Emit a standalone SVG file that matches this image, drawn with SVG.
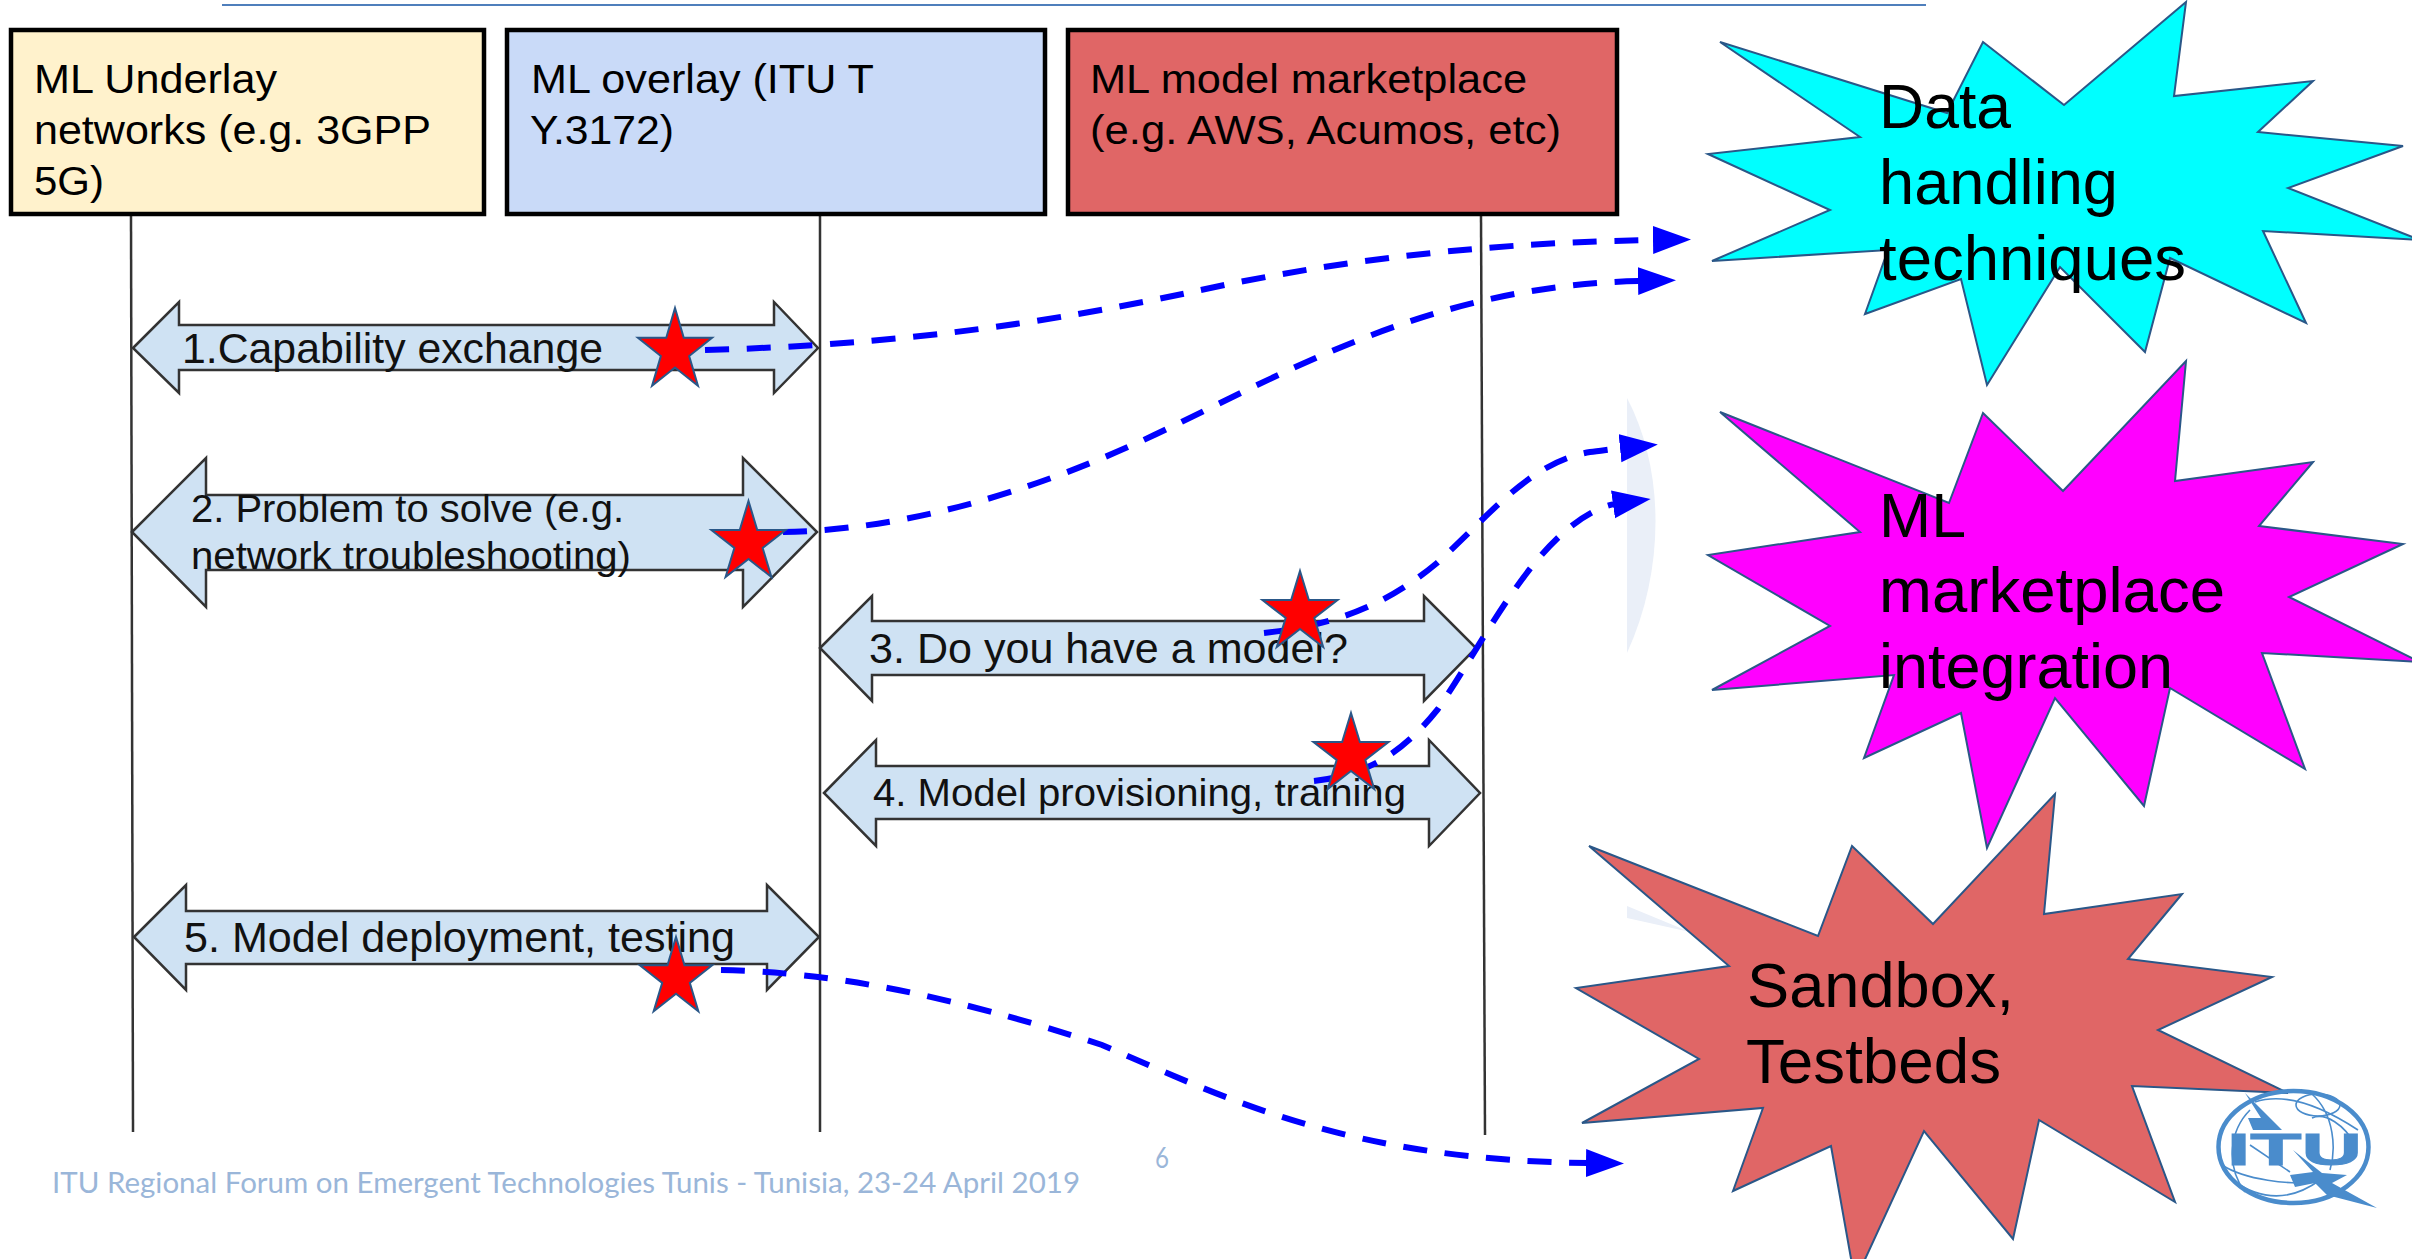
<svg xmlns="http://www.w3.org/2000/svg" width="2412" height="1259" viewBox="0 0 2412 1259">
<style>
.hdr{stroke:#000;stroke-width:4.5}
.t{font-family:"Liberation Sans",Arial,sans-serif;fill:#000}
.h{font-size:40px}
.a{font-size:39px;fill:#111}
.big{font-size:63px}
.life{stroke:#333;stroke-width:2.5;fill:none}
.arr{fill:#cfe2f3;stroke:#333;stroke-width:2.5}
.burst{stroke:#2a5788;stroke-width:2}
.dash{fill:none;stroke:#00f;stroke-width:6;stroke-dasharray:24 17.7;marker-end:url(#head)}
.foot{font-family:Lato,"Open Sans",sans-serif;fill:#9ab6d9}
.logo{fill:none;stroke:#4a8ccc}
</style>
<defs>
<marker id="head" markerUnits="userSpaceOnUse" markerWidth="42" markerHeight="30" refX="2" refY="14.5" orient="auto"><path d="M0,0.5 L38,14.5 L0,28.5Z" fill="#00f"/></marker>
<polygon id="star" points="0,-1 .2245,-.309 .951,-.309 .363,.118 .588,.809 0,.382 -.588,.809 -.363,.118 -.951,-.309 -.2245,-.309" fill="#f00" stroke="#2a5788" stroke-width="2" vector-effect="non-scaling-stroke"/>
</defs>
<rect width="2412" height="1259" fill="#fff"/>
<line x1="222" y1="5" x2="1926" y2="5" stroke="#4f7fbc" stroke-width="2"/>
<path d="M1627,398 C1665,470 1665,570 1627,653Z" fill="#eaeff8"/>
<path d="M1627,906 L1690,932 L1627,918Z" fill="#eaeff8"/>
<g id="lifelines">
<line class="life" x1="131" y1="215" x2="133" y2="1132"/>
<line class="life" x1="820" y1="215" x2="820" y2="1132"/>
<line class="life" x1="1481" y1="215" x2="1485" y2="1135"/>
</g>
<g id="node-underlay"><rect class="hdr" x="11" y="30" width="473" height="184" fill="#fff2cc"/>
<text class="t h" x="34" y="93" textLength="243" lengthAdjust="spacingAndGlyphs">ML Underlay</text>
<text class="t h" x="34" y="144" textLength="397" lengthAdjust="spacingAndGlyphs">networks (e.g. 3GPP</text>
<text class="t h" x="34" y="195" textLength="70" lengthAdjust="spacingAndGlyphs">5G)</text></g>
<g id="node-overlay"><rect class="hdr" x="507" y="30" width="538" height="184" fill="#c9daf8"/>
<text class="t h" x="531" y="93" textLength="343" lengthAdjust="spacingAndGlyphs">ML overlay (ITU T</text>
<text class="t h" x="530" y="144" textLength="144" lengthAdjust="spacingAndGlyphs">Y.3172)</text></g>
<g id="node-marketplace"><rect class="hdr" x="1068" y="30" width="549" height="184" fill="#e06666"/>
<text class="t h" x="1090" y="93" textLength="437" lengthAdjust="spacingAndGlyphs">ML model marketplace</text>
<text class="t h" x="1090" y="144" textLength="471" lengthAdjust="spacingAndGlyphs">(e.g. AWS, Acumos, etc)</text></g>
<g id="msg-1"><polygon class="arr" points="133,348 179,302 179,325 774,325 774,302 818,348 774,393 774,370 179,370 179,393"/>
<text class="t a" x="182" y="363" style="font-size:43px" textLength="421" lengthAdjust="spacingAndGlyphs">1.Capability exchange</text></g>
<g id="msg-2"><polygon class="arr" points="132,532 206,458 206,495 743,495 743,458 817,532 743,607 743,570 206,570 206,607"/>
<text class="t a" x="191" y="522" style="font-size:38px" textLength="433" lengthAdjust="spacingAndGlyphs">2. Problem to solve (e.g.</text>
<text class="t a" x="191" y="569" style="font-size:38px" textLength="440" lengthAdjust="spacingAndGlyphs">network troubleshooting)</text></g>
<g id="msg-3"><polygon class="arr" points="820,648 872,596 872,621 1424,621 1424,596 1476,648 1424,701 1424,675 872,675 872,701"/>
<text class="t a" x="869" y="663" style="font-size:42px" textLength="479" lengthAdjust="spacingAndGlyphs">3. Do you have a model?</text></g>
<g id="msg-4"><polygon class="arr" points="824,793 876,740 876,766 1429,766 1429,740 1480,793 1429,846 1429,819 876,819 876,846"/>
<text class="t a" x="873" y="806" textLength="533" lengthAdjust="spacingAndGlyphs">4. Model provisioning, training</text></g>
<g id="msg-5"><polygon class="arr" points="134,937 186,885 186,911 767,911 767,885 819,937 767,990 767,964 186,964 186,990"/>
<text class="t a" x="184" y="952" style="font-size:42px" textLength="551" lengthAdjust="spacingAndGlyphs">5. Model deployment, testing</text></g>
<g id="connectors">
<path class="dash" d="M705,350 C900,345 1050,322 1187,293 C1300,268 1450,243 1655,240"/>
<path class="dash" d="M783,532 C900,530 1030,495 1167,429 C1300,365 1440,285 1640,281"/>
<path class="dash" d="M1264,633 C1340,625 1390,602 1437,563 C1490,515 1530,462 1590,452 C1600,451 1612,449 1622,448"/>
<path class="dash" d="M1314,781 C1370,775 1405,750 1438,709 C1485,640 1530,545 1593,512 C1600,508 1608,505 1615,504"/>
<path class="dash" d="M721,970 C830,972 950,995 1102,1045 C1230,1100 1350,1160 1588,1163"/>
</g>
<g id="star-1"><use href="#star" transform="translate(675,351) scale(39,43)"/></g>
<g id="star-2"><use href="#star" transform="translate(748.5,543) scale(39,42)"/></g>
<g id="star-3"><use href="#star" transform="translate(1300,613) scale(39.5,42)"/></g>
<g id="star-4"><use href="#star" transform="translate(1351,755) scale(39.5,42)"/></g>
<g id="star-5"><use href="#star" transform="translate(676,978) scale(38,41)"/></g>
<g id="node-data"><polygon class="burst" fill="#0ff" points="1720,42 1947,113 1983,42 2064,105 2186,2 2174,96 2313,81 2258,132 2403,146 2288,188 2420,240 2263,231 2306,323 2170,258 2145,352 2060,267 1987,385 1961,279 1865,314 1888,250 1712,261 1830,210 1708,154 1860,137"/>
<text class="t big" x="1879" y="128" textLength="132" lengthAdjust="spacingAndGlyphs">Data</text>
<text class="t big" x="1879" y="204" textLength="239" lengthAdjust="spacingAndGlyphs">handling</text>
<text class="t big" x="1879" y="280" textLength="307" lengthAdjust="spacingAndGlyphs">techniques</text></g>
<g id="node-ml"><polygon class="burst" fill="#f0f" points="1720,412 1949,503 1983,413 2063,491 2186,361 2175,481 2313,462 2259,526 2403,544 2289,597 2420,662 2262,653 2305,769 2170,688 2144,806 2055,698 1987,848 1961,713 1864,758 1894,675 1712,690 1830,626 1708,555 1860,532"/>
<text class="t big" x="1879" y="537" textLength="87" lengthAdjust="spacingAndGlyphs">ML</text>
<text class="t big" x="1879" y="612" textLength="346" lengthAdjust="spacingAndGlyphs">marketplace</text>
<text class="t big" x="1879" y="688" textLength="294" lengthAdjust="spacingAndGlyphs">integration</text></g>
<g id="node-sandbox"><polygon class="burst" fill="#e06666" points="1589,846 1818,936 1852,846 1933,924 2055,794 2044,914 2182,894 2128,959 2272,977 2158,1030 2288,1093 2132,1086 2175,1202 2039,1120 2013,1239 1924,1131 1855,1281 1831,1146 1733,1191 1763,1108 1582,1123 1699,1059 1576,988 1729,966"/>
<text class="t big" x="1747" y="1007" textLength="267" lengthAdjust="spacingAndGlyphs">Sandbox,</text>
<text class="t big" x="1746" y="1083" textLength="255" lengthAdjust="spacingAndGlyphs">Testbeds</text></g>
<g id="logo">
<ellipse class="logo" cx="2293.5" cy="1147" rx="75" ry="56" stroke-width="4.5"/>
<g class="logo" stroke-width="1.6">
<ellipse cx="2318" cy="1105" rx="22" ry="11"/>
<path d="M2312,1094 C2335,1115 2336,1150 2330,1170 M2255,1102 C2285,1092 2320,1105 2358,1130 M2250,1110 C2230,1130 2225,1165 2245,1192 M2222,1165 C2245,1180 2290,1185 2315,1182 M2232,1180 C2260,1200 2290,1202 2320,1180 M2312,1118 C2325,1112 2345,1125 2355,1145 M2250,1145 L2290,1172"/>
</g>
<path d="M2245,1093 L2282,1130 L2253,1130 L2248,1118 L2261,1118Z" fill="#4a8ccc"/>
<text x="2227" y="1165" font-family="Liberation Sans,sans-serif" font-weight="700" font-size="44" fill="#4a8ccc" stroke="#4a8ccc" textLength="135" lengthAdjust="spacingAndGlyphs">ITU</text>
<path d="M2293,1150 L2322,1173 L2347,1175 L2332,1183 L2377,1208 L2327,1195 L2315,1183 L2295,1187 L2290,1175 L2313,1172Z" fill="#4a8ccc"/>
</g>
<text class="foot" x="52" y="1193" font-size="28" textLength="1028" lengthAdjust="spacingAndGlyphs">ITU Regional Forum on Emergent Technologies Tunis - Tunisia, 23-24 April 2019</text>
<text class="foot" x="1155" y="1168" font-size="28" textLength="14" lengthAdjust="spacingAndGlyphs">6</text>
</svg>
